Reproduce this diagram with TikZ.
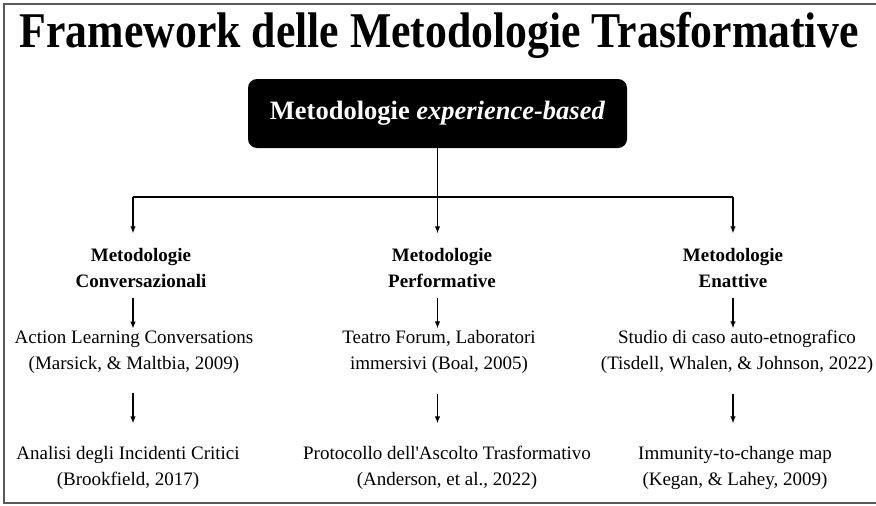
\documentclass[tikz,border=0pt]{standalone}
\usepackage{fontspec}
\setmainfont{Liberation Serif}
\usetikzlibrary{positioning,arrows.meta}

\begin{document}
\begin{tikzpicture}[x=1pt,y=-1pt,
  txt/.style={align=center,inner sep=0pt,outer sep=0pt,font=\fontsize{19}{26}\selectfont},
  head/.style={txt,font=\fontsize{19}{26}\selectfont\bfseries},
  arr/.style={-{Latex[length=7pt,width=5.5pt]},line width=1.2pt}]

\useasboundingbox (0,0) rectangle (876,506);

% cornice
\draw[line width=1.4pt,black!65] (876,4) -- (4,4) -- (4,503) -- (876,503);

% titolo
\node[anchor=base,inner sep=0pt] (title) at (439,47)
  {\scalebox{0.875}[1]{\fontsize{50}{50}\selectfont\bfseries Framework delle Metodologie Trasformative}};

% radice
\node[fill=black,text=white,rounded corners=9pt,minimum width=379pt,minimum height=69pt,
  font=\fontsize{26.5}{30}\selectfont\bfseries] (root) at (437.5,113.5)
  {Metodologie \textit{experience-based}};

\coordinate (split) at (437.5,197);
\coordinate (jl) at (133,197);
\coordinate (jr) at (733,197);

% colonne
\node[head] (conv) at (141,268) {Metodologie\\Conversazionali};
\node[head] (perf) at (442,268) {Metodologie\\Performative};
\node[head] (enat) at (733,268) {Metodologie\\Enattive};

\node[txt] (alc) at (134,352) {Action Learning Conversations\\(Marsick, \& Maltbia, 2009)};
\node[txt] (tf) at (439,352) {Teatro Forum, Laboratori\\immersivi (Boal, 2005)};
\node[txt] (sc) at (737,352) {Studio di caso auto-etnografico\\(Tisdell, Whalen, \& Johnson, 2022)};

\node[txt] (aic) at (128,468) {Analisi degli Incidenti Critici\\(Brookfield, 2017)};
\node[txt] (pat) at (447,468) {Protocollo dell\textquotesingle Ascolto Trasformativo\\(Anderson, et al., 2022)};
\node[txt] (itc) at (735,468) {Immunity-to-change map\\(Kegan, \& Lahey, 2009)};

% connettori
\draw[line width=1.2pt] (root.south) -- (split);
\draw[line width=1.2pt] (jl) -- (jr);
\draw[arr,shorten >=15pt] (jl) -- (jl |- conv.north);
\draw[arr,shorten >=15pt] (split) -- (split |- perf.north);
\draw[arr,shorten >=15pt] (jr) -- (jr |- enat.north);

\draw[arr,shorten <=10pt,shorten >=2pt] (jl |- conv.south) -- (jl |- alc.north);
\draw[arr,shorten <=10pt,shorten >=2pt] (split |- perf.south) -- (split |- tf.north);
\draw[arr,shorten <=10pt,shorten >=2pt] (jr |- enat.south) -- (jr |- sc.north);

\draw[arr,shorten <=20pt,shorten >=23pt] (jl |- alc.south) -- (jl |- aic.north);
\draw[arr,shorten <=20pt,shorten >=23pt] (split |- tf.south) -- (split |- pat.north);
\draw[arr,shorten <=20pt,shorten >=23pt] (jr |- sc.south) -- (jr |- itc.north);

\end{tikzpicture}
\end{document}
